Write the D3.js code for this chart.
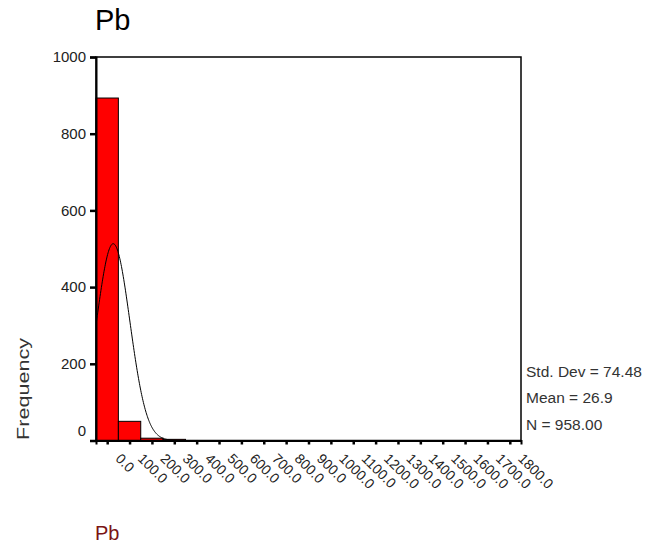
<!DOCTYPE html>
<html>
<head>
<meta charset="utf-8">
<script src="https://cdn.jsdelivr.net/npm/d3@7"></script>
<style>
  body { margin: 0; background: #fff; }
  svg { font-family: Arial, "Liberation Sans", sans-serif; }
</style>
</head>
<body>
<svg id="chart" width="651" height="548"></svg>
<script>
// histogram of Pb, bins of width 100 centred on the tick values
const binCenters = [0, 100, 200, 300, 400, 500, 600, 700, 800, 900, 1000, 1100, 1200, 1300, 1400, 1500, 1600, 1700, 1800];
const frequencies = [893, 50, 6, 3, 0, 0, 0, 0, 0, 0, 0, 0, 0, 0, 0, 0, 0, 0, 0];
const yTicks = [0, 200, 400, 600, 800, 1000];
const binWidth = 100;
const stdDev = 74.48;
const mean = 26.9;
const n = 958;
const statLines = ["Std. Dev = 74.48", "Mean = 26.9", "N = 958.00"];

const svg = d3.select("#chart");

const x = d3.scaleLinear().domain([-50, 1850]).range([96, 521]);
const y = d3.scaleLinear().domain([0, 1000]).range([440.5, 57]);

// title
svg.append("text")
    .attr("x", 95).attr("y", 30)
    .attr("font-size", 29)
    .attr("fill", "#000")
    .text("Pb");

// clip for the curve
svg.append("clipPath").attr("id", "plotclip")
    .append("rect")
    .attr("x", x(-50)).attr("y", y(1000))
    .attr("width", x(1850) - x(-50)).attr("height", y(0) - y(1000));

// bars
svg.selectAll("rect.bar")
    .data(binCenters.map((c, i) => ({ c: c, f: frequencies[i] })).filter(d => d.f > 0))
    .enter()
    .append("rect")
    .attr("class", "bar")
    .attr("x", d => x(d.c - binWidth / 2))
    .attr("width", d => x(d.c + binWidth / 2) - x(d.c - binWidth / 2))
    .attr("y", d => y(d.f))
    .attr("height", d => y(0) - y(d.f))
    .attr("fill", "#f00")
    .attr("stroke", "#000")
    .attr("stroke-width", 1);

// fitted normal curve
const pdf = v => n * binWidth / (stdDev * Math.sqrt(2 * Math.PI)) * Math.exp(-0.5 * Math.pow((v - mean) / stdDev, 2));
const curvePts = d3.range(-50, 1851, 2).map(v => [v, pdf(v)]);
svg.append("path")
    .datum(curvePts)
    .attr("clip-path", "url(#plotclip)")
    .attr("fill", "none")
    .attr("stroke", "#000")
    .attr("stroke-width", 1)
    .attr("d", d3.line().x(d => x(d[0])).y(d => y(d[1])));

// frame
svg.append("rect")
    .attr("x", x(-50)).attr("y", y(1000))
    .attr("width", x(1850) - x(-50)).attr("height", y(0) - y(1000))
    .attr("fill", "none")
    .attr("stroke", "#000")
    .attr("stroke-width", 1.5);

// y axis
const yAxis = svg.append("g")
    .attr("transform", `translate(${x(-50)},0)`)
    .call(d3.axisLeft(y).tickValues(yTicks).tickSize(6).tickPadding(4).tickFormat(d3.format("d")));
yAxis.select(".domain").attr("stroke-width", 2);
yAxis.selectAll(".tick line").attr("stroke-width", 2.5);
yAxis.selectAll(".tick text")
    .attr("font-size", 15)
    .attr("font-family", "Arial, 'Liberation Sans', sans-serif")
    .attr("fill", "#222")
    .attr("dy", d => d === 0 ? "-0.35em" : "0.32em");

// x axis
const xAxis = svg.append("g")
    .attr("transform", `translate(0,${y(0)})`)
    .call(d3.axisBottom(x).tickValues(binCenters).tickSize(4).tickFormat(d3.format(".1f")));
xAxis.select(".domain").attr("stroke-width", 2);
xAxis.selectAll(".tick line").attr("stroke-width", 2.5);
xAxis.selectAll(".tick text")
    .attr("font-size", 14)
    .attr("font-family", "Arial, 'Liberation Sans', sans-serif")
    .attr("fill", "#222")
    .attr("text-anchor", "start")
    .attr("dy", null)
    .attr("y", 0)
    .attr("transform", "translate(7,19) rotate(45)");

// y label
svg.append("text")
    .attr("transform", "translate(29,440) rotate(-90)")
    .attr("font-size", 16)
    .attr("fill", "#333")
    .attr("textLength", 102)
    .attr("lengthAdjust", "spacingAndGlyphs")
    .text("Frequency");

// x label
svg.append("text")
    .attr("x", 95).attr("y", 540)
    .attr("font-size", 20)
    .attr("fill", "#7a1414")
    .text("Pb");

// statistics
svg.selectAll("text.stat")
    .data(statLines)
    .enter()
    .append("text")
    .attr("class", "stat")
    .attr("x", 526)
    .attr("y", (d, i) => 376.5 + i * 26.7)
    .attr("font-size", 15.5)
    .attr("fill", "#333")
    .text(d => d);
</script>
</body>
</html>
